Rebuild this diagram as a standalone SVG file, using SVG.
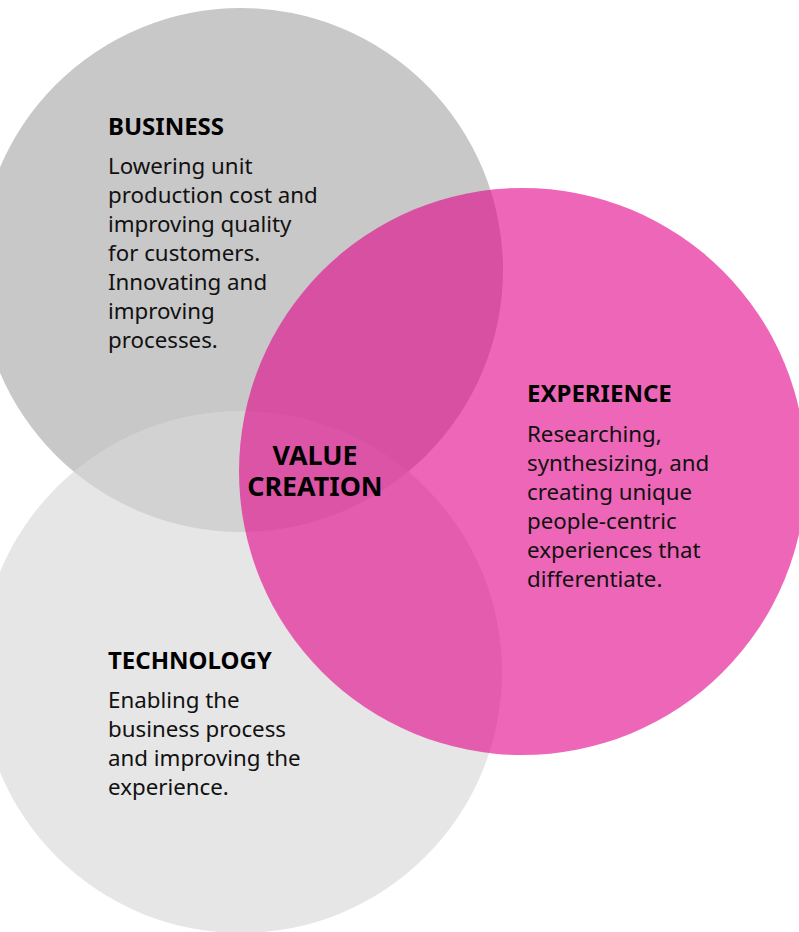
<svg xmlns="http://www.w3.org/2000/svg" width="799" height="932" viewBox="0 0 799 932">
<style>
.h{font-family:"Noto Sans","Open Sans","Liberation Sans",sans-serif;font-weight:700;font-size:24px;fill:#000}
.b{font-family:"Noto Sans","Open Sans","Liberation Sans",sans-serif;font-size:22.3px;fill:#111}
.vc{font-family:"Noto Sans","Open Sans","Liberation Sans",sans-serif;font-weight:700;font-size:26.8px;fill:#000;text-anchor:middle}
</style>
<rect width="799" height="932" fill="#fff"/>
<g id="business">
<circle cx="241" cy="270" r="262" fill="#c8c8c8"/>
</g>
<g id="technology">
<circle cx="241" cy="672" r="261" fill="#d8d8d8" fill-opacity="0.64"/>
</g>
<g id="experience">
<circle cx="522.5" cy="471.5" r="283.5" fill="#e30089" fill-opacity="0.6"/>
</g>
<g id="business-text">
<text class="h" x="108" y="135">BUSINESS</text>
<text class="b" x="108" y="174">Lowering unit</text>
<text class="b" x="108" y="203">production cost and</text>
<text class="b" x="108" y="232">improving quality</text>
<text class="b" x="108" y="261">for customers.</text>
<text class="b" x="108" y="290">Innovating and</text>
<text class="b" x="108" y="319">improving</text>
<text class="b" x="108" y="348">processes.</text>
</g>
<g id="experience-text">
<text class="h" x="527" y="402">EXPERIENCE</text>
<text class="b" x="527" y="442">Researching,</text>
<text class="b" x="527" y="471">synthesizing, and</text>
<text class="b" x="527" y="500">creating unique</text>
<text class="b" x="527" y="529">people-centric</text>
<text class="b" x="527" y="558">experiences that</text>
<text class="b" x="527" y="587">differentiate.</text>
</g>
<g id="technology-text">
<text class="h" x="108" y="669">TECHNOLOGY</text>
<text class="b" x="108" y="708">Enabling the</text>
<text class="b" x="108" y="737">business process</text>
<text class="b" x="108" y="766">and improving the</text>
<text class="b" x="108" y="795">experience.</text>
</g>
<g id="value-creation">
<text class="vc" x="315" y="465">VALUE</text>
<text class="vc" x="315" y="496">CREATION</text>
</g>
<g id="connectors"></g>
</svg>
